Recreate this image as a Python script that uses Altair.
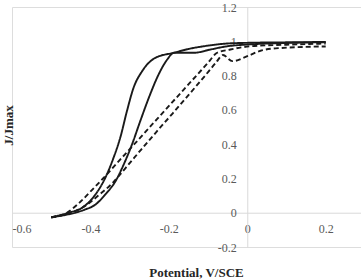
import altair as alt
import pandas as pd

# ---- data ----
solid_a_v = [-0.500, -0.456, -0.421, -0.387, -0.362, -0.341, -0.324, -0.307, -0.290, -0.268, -0.234, -0.187, -0.150, -0.111, -0.051, 0.000, 0.100, 0.200]
solid_a_j = [-0.027, 0.000, 0.029, 0.107, 0.204, 0.321, 0.437, 0.592, 0.729, 0.826, 0.904, 0.933, 0.955, 0.971, 0.987, 0.991, 0.994, 0.996]

solid_b_v = [-0.500, -0.481, -0.439, -0.413, -0.387, -0.362, -0.336, -0.315, -0.294, -0.273, -0.251, -0.226, -0.204, -0.187, -0.136, -0.094, -0.051, 0.000, 0.100, 0.200]
solid_b_j = [-0.027, -0.020, 0.000, 0.019, 0.048, 0.107, 0.184, 0.282, 0.398, 0.534, 0.671, 0.807, 0.894, 0.933, 0.933, 0.952, 0.971, 0.981, 0.990, 0.995]

dash_a_v = [-0.500, -0.460, -0.425, -0.395, -0.366, -0.330, -0.290, -0.250, -0.210, -0.170, -0.130, -0.100, -0.077, -0.043, 0.008, 0.100, 0.200]
dash_a_j = [-0.027, 0.000, 0.065, 0.135, 0.204, 0.295, 0.395, 0.496, 0.597, 0.698, 0.799, 0.875, 0.933, 0.952, 0.971, 0.980, 0.987]

dash_b_v = [-0.500, -0.450, -0.410, -0.380, -0.345, -0.310, -0.270, -0.230, -0.190, -0.150, -0.110, -0.080, -0.062, -0.038, 0.000, 0.034, 0.080, 0.200]
dash_b_j = [-0.027, 0.000, 0.045, 0.100, 0.170, 0.262, 0.370, 0.476, 0.580, 0.686, 0.793, 0.875, 0.920, 0.884, 0.913, 0.945, 0.960, 0.970]

x_ticks = [-0.6, -0.4, -0.2, 0, 0.2]
y_ticks = [-0.2, 0, 0.2, 0.4, 0.6, 0.8, 1, 1.2]

series = [
    ("solid_a", "solid", solid_a_v, solid_a_j),
    ("solid_b", "solid", solid_b_v, solid_b_j),
    ("dash_a", "dashed", dash_a_v, dash_a_j),
    ("dash_b", "dashed", dash_b_v, dash_b_j),
]
rows = []
for name, style, vs, js in series:
    for i, (v, j) in enumerate(zip(vs, js)):
        rows.append({"series": name, "style": style, "v": v, "j": j, "i": i})
df = pd.DataFrame(rows)

W, H = 349, 240
XMIN, XMAX = -0.6, 0.29
YMIN, YMAX = -0.2, 1.2
x_off = -W * (0 - XMIN) / (XMAX - XMIN)
y_off = -H * (0 - YMIN) / (YMAX - YMIN)

SERIF = "Liberation Serif"
label_expr = "toString(round(datum.value*10)/10)"

x_enc = alt.X(
    "v:Q",
    scale=alt.Scale(domain=[XMIN, XMAX], nice=False, zero=False),
    axis=alt.Axis(
        values=x_ticks, labelExpr=label_expr, offset=y_off, ticks=False, tickSize=0,
        grid=False, domainColor="#d9d9d9", domainWidth=1, labelPadding=11,
        labelFont=SERIF, labelFontSize=12, labelColor="#595959",
        title="Potential, V/SCE", titleFont=SERIF, titleFontSize=13,
        titleFontWeight="bold", titleColor="#262626", titleX=184, titleY=60,
        titleBaseline="middle", titleAnchor="middle",
    ),
)
y_enc = alt.Y(
    "j:Q",
    scale=alt.Scale(domain=[YMIN, YMAX], nice=False, zero=False),
    axis=alt.Axis(
        values=y_ticks, labelExpr=label_expr, offset=x_off, ticks=False, tickSize=0,
        grid=False, domainColor="#d9d9d9", domainWidth=1, labelPadding=11,
        labelFont=SERIF, labelFontSize=12, labelColor="#595959",
        title="J/Jmax", titleFont=SERIF, titleFontSize=13,
        titleFontWeight="bold", titleColor="#262626", titleX=-239, titleY=118,
        titleBaseline="middle", titleAnchor="middle",
    ),
)

chart = alt.Chart(df).mark_line(interpolate="monotone", strokeWidth=1.9, color="#1a1a1a").encode(
    x=x_enc,
    y=y_enc,
    detail="series:N",
    order="i:Q",
    strokeDash=alt.StrokeDash(
        "style:N",
        scale=alt.Scale(domain=["solid", "dashed"], range=[[1, 0], [5, 3]]),
        legend=None,
    ),
).properties(
    width=W,
    height=H,
    autosize=alt.AutoSizeParams(type="none"),
    padding={"left": 12, "top": 7, "right": 0, "bottom": 33},
).configure_view(stroke=None).configure(font=SERIF)

chart.save("out.html", embed_options={"renderer": "svg", "actions": False})
